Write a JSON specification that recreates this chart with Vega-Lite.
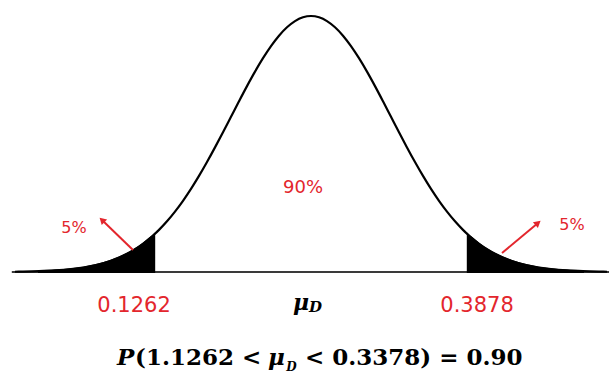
{
  "$schema": "https://vega.github.io/schema/vega-lite/v6.json",
  "width": 609,
  "height": 384,
  "autosize": {"type": "none"},
  "padding": 0,
  "background": "white",
  "config": {"view": {"stroke": null}},
  "datasets": {
    "curve": [
      {"z": -3.7, "d": 0.00106}, {"z": -3.6, "d": 0.00153}, {"z": -3.4, "d": 0.00309}, {"z": -3.2, "d": 0.00598},
      {"z": -3.0, "d": 0.01111}, {"z": -2.9, "d": 0.01492}, {"z": -2.8, "d": 0.01984}, {"z": -2.7, "d": 0.02612},
      {"z": -2.6, "d": 0.03405}, {"z": -2.5, "d": 0.04394}, {"z": -2.4, "d": 0.05613}, {"z": -2.3, "d": 0.071},
      {"z": -2.2, "d": 0.08892}, {"z": -2.1, "d": 0.11025}, {"z": -2.0, "d": 0.13534}, {"z": -1.96, "d": 0.14648},
      {"z": -1.9, "d": 0.16447}, {"z": -1.8, "d": 0.1979}, {"z": -1.7, "d": 0.23575}, {"z": -1.6, "d": 0.27804},
      {"z": -1.5, "d": 0.32465}, {"z": -1.4, "d": 0.37531}, {"z": -1.3, "d": 0.42956}, {"z": -1.2, "d": 0.48675},
      {"z": -1.1, "d": 0.54607}, {"z": -1.0, "d": 0.60653}, {"z": -0.9, "d": 0.66698}, {"z": -0.8, "d": 0.72615},
      {"z": -0.7, "d": 0.7827}, {"z": -0.6, "d": 0.83527}, {"z": -0.5, "d": 0.8825}, {"z": -0.4, "d": 0.92312},
      {"z": -0.3, "d": 0.956}, {"z": -0.2, "d": 0.9802}, {"z": -0.1, "d": 0.99501}, {"z": 0.0, "d": 1.0},
      {"z": 0.1, "d": 0.99501}, {"z": 0.2, "d": 0.9802}, {"z": 0.3, "d": 0.956}, {"z": 0.4, "d": 0.92312},
      {"z": 0.5, "d": 0.8825}, {"z": 0.6, "d": 0.83527}, {"z": 0.7, "d": 0.7827}, {"z": 0.8, "d": 0.72615},
      {"z": 0.9, "d": 0.66698}, {"z": 1.0, "d": 0.60653}, {"z": 1.1, "d": 0.54607}, {"z": 1.2, "d": 0.48675},
      {"z": 1.3, "d": 0.42956}, {"z": 1.4, "d": 0.37531}, {"z": 1.5, "d": 0.32465}, {"z": 1.6, "d": 0.27804},
      {"z": 1.7, "d": 0.23575}, {"z": 1.8, "d": 0.1979}, {"z": 1.9, "d": 0.16447}, {"z": 1.96, "d": 0.14648},
      {"z": 2.0, "d": 0.13534}, {"z": 2.1, "d": 0.11025}, {"z": 2.2, "d": 0.08892}, {"z": 2.3, "d": 0.071},
      {"z": 2.4, "d": 0.05613}, {"z": 2.5, "d": 0.04394}, {"z": 2.6, "d": 0.03405}, {"z": 2.7, "d": 0.02612},
      {"z": 2.8, "d": 0.01984}, {"z": 2.9, "d": 0.01492}, {"z": 3.0, "d": 0.01111}, {"z": 3.2, "d": 0.00598},
      {"z": 3.4, "d": 0.00309}, {"z": 3.6, "d": 0.00153}, {"z": 3.7, "d": 0.00106}
    ],
    "baseline": [{"z": -3.74, "z2": 3.725, "d": 0}],
    "arrows": [
      {"side": "left", "z": -2.225, "d": 0.0859, "z2": -2.6125, "d2": 0.2031},
      {"side": "right", "z": 2.3875, "d": 0.0742, "z2": 2.8375, "d2": 0.1914}
    ],
    "labels": [
      {"role": "tick", "text": "0.1262", "z": -2.2125, "d": -0.1328},
      {"role": "tick", "text": "0.3878", "z": 2.075, "d": -0.1328},
      {"role": "pct", "text": "5%", "z": -2.9625, "d": 0.1719},
      {"role": "pct", "text": "5%", "z": 3.2625, "d": 0.1836},
      {"role": "pct90", "text": "90%", "z": -0.1, "d": 0.328},
      {"role": "mu", "text": "μ", "z": -0.225, "d": -0.1484},
      {"role": "musub", "text": "D", "z": -0.025, "d": -0.1563},
      {"role": "fP", "text": "P", "z": -2.425, "d": -0.3633},
      {"role": "fbold", "text": "(1.1262 <", "z": -2.2, "d": -0.3633},
      {"role": "fmu", "text": "μ", "z": -0.5375, "d": -0.3633},
      {"role": "fsub", "text": "D", "z": -0.31, "d": -0.3867},
      {"role": "fbold", "text": "< 0.3378) = 0.90", "z": -0.075, "d": -0.3633}
    ]
  },
  "layer": [
    {
      "data": {"name": "baseline"},
      "mark": {"type": "rule", "color": "#3a3a3a", "strokeWidth": 2},
      "encoding": {
        "x": {"field": "z", "type": "quantitative", "scale": {"domain": [-3.8875, 3.725], "nice": false, "zero": false}, "axis": null},
        "x2": {"field": "z2"},
        "y": {"field": "d", "type": "quantitative", "scale": {"domain": [-0.4375, 1.0625], "nice": false, "zero": false}, "axis": null}
      }
    },
    {
      "data": {"name": "curve"},
      "transform": [{"filter": "datum.z <= -1.96 && datum.z >= -3.4"}],
      "mark": {"type": "area", "color": "black", "interpolate": "monotone", "stroke": "black", "strokeWidth": 2},
      "encoding": {
        "x": {"field": "z", "type": "quantitative", "scale": {"domain": [-3.8875, 3.725], "nice": false, "zero": false}, "axis": null},
        "y": {"field": "d", "type": "quantitative", "scale": {"domain": [-0.4375, 1.0625], "nice": false, "zero": false}, "axis": null},
        "y2": {"datum": 0}
      }
    },
    {
      "data": {"name": "curve"},
      "transform": [{"filter": "datum.z >= 1.96 && datum.z <= 3.4"}],
      "mark": {"type": "area", "color": "black", "interpolate": "monotone", "stroke": "black", "strokeWidth": 2},
      "encoding": {
        "x": {"field": "z", "type": "quantitative", "scale": {"domain": [-3.8875, 3.725], "nice": false, "zero": false}, "axis": null},
        "y": {"field": "d", "type": "quantitative", "scale": {"domain": [-0.4375, 1.0625], "nice": false, "zero": false}, "axis": null},
        "y2": {"datum": 0}
      }
    },
    {
      "data": {"name": "curve"},
      "mark": {"type": "line", "color": "black", "strokeWidth": 2.2, "interpolate": "monotone"},
      "encoding": {
        "x": {"field": "z", "type": "quantitative", "scale": {"domain": [-3.8875, 3.725], "nice": false, "zero": false}, "axis": null},
        "y": {"field": "d", "type": "quantitative", "scale": {"domain": [-0.4375, 1.0625], "nice": false, "zero": false}, "axis": null}
      }
    },
    {
      "data": {"name": "arrows"},
      "mark": {"type": "rule", "color": "#e3262d", "strokeWidth": 2},
      "encoding": {
        "x": {"field": "z", "type": "quantitative", "scale": {"domain": [-3.8875, 3.725], "nice": false, "zero": false}, "axis": null},
        "x2": {"field": "z2"},
        "y": {"field": "d", "type": "quantitative", "scale": {"domain": [-0.4375, 1.0625], "nice": false, "zero": false}, "axis": null},
        "y2": {"field": "d2"}
      }
    },
    {
      "data": {"name": "arrows"},
      "transform": [{"filter": "datum.side == 'left'"}],
      "mark": {"type": "point", "shape": "triangle-up", "filled": true, "color": "#e3262d", "size": 60, "angle": -46, "opacity": 1},
      "encoding": {
        "x": {"field": "z2", "type": "quantitative", "scale": {"domain": [-3.8875, 3.725], "nice": false, "zero": false}, "axis": null},
        "y": {"field": "d2", "type": "quantitative", "scale": {"domain": [-0.4375, 1.0625], "nice": false, "zero": false}, "axis": null}
      }
    },
    {
      "data": {"name": "arrows"},
      "transform": [{"filter": "datum.side == 'right'"}],
      "mark": {"type": "point", "shape": "triangle-up", "filled": true, "color": "#e3262d", "size": 60, "angle": 50, "opacity": 1},
      "encoding": {
        "x": {"field": "z2", "type": "quantitative", "scale": {"domain": [-3.8875, 3.725], "nice": false, "zero": false}, "axis": null},
        "y": {"field": "d2", "type": "quantitative", "scale": {"domain": [-0.4375, 1.0625], "nice": false, "zero": false}, "axis": null}
      }
    },
    {
      "data": {"name": "labels"},
      "transform": [{"filter": "datum.role == 'tick'"}],
      "mark": {"type": "text", "color": "#e3262d", "font": "DejaVu Sans", "fontSize": 21, "align": "center", "baseline": "middle"},
      "encoding": {
        "x": {"field": "z", "type": "quantitative", "scale": {"domain": [-3.8875, 3.725], "nice": false, "zero": false}, "axis": null},
        "y": {"field": "d", "type": "quantitative", "scale": {"domain": [-0.4375, 1.0625], "nice": false, "zero": false}, "axis": null},
        "text": {"field": "text"}
      }
    },
    {
      "data": {"name": "labels"},
      "transform": [{"filter": "datum.role == 'pct'"}],
      "mark": {"type": "text", "color": "#e3262d", "font": "DejaVu Sans", "fontSize": 16, "align": "center", "baseline": "middle"},
      "encoding": {
        "x": {"field": "z", "type": "quantitative", "scale": {"domain": [-3.8875, 3.725], "nice": false, "zero": false}, "axis": null},
        "y": {"field": "d", "type": "quantitative", "scale": {"domain": [-0.4375, 1.0625], "nice": false, "zero": false}, "axis": null},
        "text": {"field": "text"}
      }
    },
    {
      "data": {"name": "labels"},
      "transform": [{"filter": "datum.role == 'pct90'"}],
      "mark": {"type": "text", "color": "#e3262d", "font": "DejaVu Sans", "fontSize": 18, "align": "center", "baseline": "middle"},
      "encoding": {
        "x": {"field": "z", "type": "quantitative", "scale": {"domain": [-3.8875, 3.725], "nice": false, "zero": false}, "axis": null},
        "y": {"field": "d", "type": "quantitative", "scale": {"domain": [-0.4375, 1.0625], "nice": false, "zero": false}, "axis": null},
        "text": {"field": "text"}
      }
    },
    {
      "data": {"name": "labels"},
      "transform": [{"filter": "datum.role == 'mu'"}],
      "mark": {"type": "text", "color": "black", "font": "DejaVu Serif", "fontSize": 22, "fontStyle": "italic", "fontWeight": "bold", "align": "left", "baseline": "alphabetic"},
      "encoding": {
        "x": {"field": "z", "type": "quantitative", "scale": {"domain": [-3.8875, 3.725], "nice": false, "zero": false}, "axis": null},
        "y": {"field": "d", "type": "quantitative", "scale": {"domain": [-0.4375, 1.0625], "nice": false, "zero": false}, "axis": null},
        "text": {"field": "text"}
      }
    },
    {
      "data": {"name": "labels"},
      "transform": [{"filter": "datum.role == 'musub'"}],
      "mark": {"type": "text", "color": "black", "font": "DejaVu Serif", "fontSize": 15, "fontStyle": "italic", "fontWeight": "bold", "align": "left", "baseline": "alphabetic"},
      "encoding": {
        "x": {"field": "z", "type": "quantitative", "scale": {"domain": [-3.8875, 3.725], "nice": false, "zero": false}, "axis": null},
        "y": {"field": "d", "type": "quantitative", "scale": {"domain": [-0.4375, 1.0625], "nice": false, "zero": false}, "axis": null},
        "text": {"field": "text"}
      }
    },
    {
      "data": {"name": "labels"},
      "transform": [{"filter": "datum.role == 'fP' || datum.role == 'fmu'"}],
      "mark": {"type": "text", "color": "black", "font": "DejaVu Serif", "fontSize": 23, "fontStyle": "italic", "fontWeight": "bold", "align": "left", "baseline": "alphabetic"},
      "encoding": {
        "x": {"field": "z", "type": "quantitative", "scale": {"domain": [-3.8875, 3.725], "nice": false, "zero": false}, "axis": null},
        "y": {"field": "d", "type": "quantitative", "scale": {"domain": [-0.4375, 1.0625], "nice": false, "zero": false}, "axis": null},
        "text": {"field": "text"}
      }
    },
    {
      "data": {"name": "labels"},
      "transform": [{"filter": "datum.role == 'fbold'"}],
      "mark": {"type": "text", "color": "black", "font": "DejaVu Serif", "fontSize": 23, "fontWeight": "bold", "align": "left", "baseline": "alphabetic"},
      "encoding": {
        "x": {"field": "z", "type": "quantitative", "scale": {"domain": [-3.8875, 3.725], "nice": false, "zero": false}, "axis": null},
        "y": {"field": "d", "type": "quantitative", "scale": {"domain": [-0.4375, 1.0625], "nice": false, "zero": false}, "axis": null},
        "text": {"field": "text"}
      }
    },
    {
      "data": {"name": "labels"},
      "transform": [{"filter": "datum.role == 'fsub'"}],
      "mark": {"type": "text", "color": "black", "font": "DejaVu Serif", "fontSize": 12, "fontStyle": "italic", "fontWeight": "bold", "align": "left", "baseline": "alphabetic"},
      "encoding": {
        "x": {"field": "z", "type": "quantitative", "scale": {"domain": [-3.8875, 3.725], "nice": false, "zero": false}, "axis": null},
        "y": {"field": "d", "type": "quantitative", "scale": {"domain": [-0.4375, 1.0625], "nice": false, "zero": false}, "axis": null},
        "text": {"field": "text"}
      }
    }
  ]
}
